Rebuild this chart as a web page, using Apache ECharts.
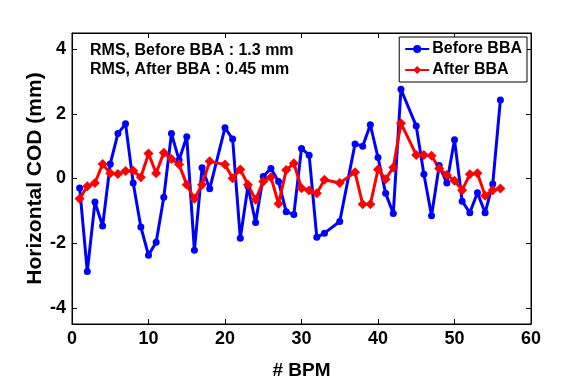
<!DOCTYPE html>
<html>
<head>
<meta charset="utf-8">
<script src="https://cdn.jsdelivr.net/npm/echarts@6/dist/echarts.min.js"></script>
<style>html,body{margin:0;padding:0;background:#fff}#c{width:566px;height:385px}</style>
</head>
<body>
<div id="c"></div>
<script>
var bpm = [1,2,3,4,5,6,7,8,9,10,11,12,13,14,15,16,17,18,
  20,21,22,23,24,25,26,27,28,29,30,31,32,33,
  35,
  37,38,39,40,41,42,43,
  45,46,47,48,49,50,51,52,53,54,55,56];
var beforeBBA = [-0.29,-2.88,-0.73,-1.47,0.45,1.39,1.69,-0.14,-1.50,-2.37,-1.97,-0.58,1.39,0.57,1.29,-2.22,0.33,-0.32,
  1.57,1.22,-1.85,-0.24,-1.36,0.06,0.31,-0.09,-1.03,-1.11,0.93,0.72,-1.82,-1.69,
  -1.33,
  1.07,1.00,1.66,0.65,-0.46,-1.08,2.76,
  1.62,0.13,-1.15,0.40,-0.14,1.20,-0.70,-1.06,-0.44,-1.06,-0.17,2.43];
var afterBBA = [-0.63,-0.24,-0.14,0.45,0.16,0.14,0.23,0.24,0.04,0.77,0.16,0.80,0.60,0.43,-0.19,-0.63,-0.19,0.53,
  0.43,0.01,0.28,-0.19,-0.66,-0.09,0.04,-0.78,0.26,0.47,-0.30,-0.37,-0.46,-0.04,
  -0.14,
  0.19,-0.80,-0.80,0.28,-0.02,0.34,1.71,
  0.73,0.73,0.70,0.31,0.11,-0.07,-0.36,0.13,0.16,-0.53,-0.36,-0.31];
var yTicks = [-4,-2,0,2,4];
var notes = ['RMS, Before BBA : 1.3 mm', 'RMS, After BBA : 0.45 mm'];

function pairs(xs, ys){ return xs.map(function(x,i){ return [x, ys[i]]; }); }

var FONT = 'Liberation Sans, Arial, sans-serif';
var chart = echarts.init(document.getElementById('c'), null, {renderer:'canvas'});
chart.setOption({
  animation: false,
  backgroundColor: '#fff',
  grid: {left: 72, right: 35, top: 33, bottom: 47, show: true, borderColor: '#000', borderWidth: 1, backgroundColor: 'transparent'},
  xAxis: [{
    type: 'value', min: 0, max: 60, interval: 10,
    name: '# BPM', nameLocation: 'middle', nameGap: 37,
    nameTextStyle: {fontFamily: FONT, fontWeight: 'bold', fontSize: 19, color: '#000'},
    axisLine: {show: true, onZero: false, lineStyle: {color: '#000', width: 1}},
    axisTick: {show: true, inside: true, length: 5, lineStyle: {color: '#000'}},
    axisLabel: {fontFamily: FONT, fontWeight: 'bold', fontSize: 18, color: '#000', margin: 6},
    splitLine: {show: false}
  },{
    type: 'value', position: 'top', min: 0, max: 60, interval: 10,
    axisLine: {show: true, onZero: false, lineStyle: {color: '#000', width: 1}},
    axisTick: {show: true, inside: true, length: 5, lineStyle: {color: '#000'}},
    axisLabel: {show: false}, splitLine: {show: false}
  }],
  yAxis: [{
    type: 'value', min: -4.5, max: 4.5,
    name: 'Horizontal COD (mm)', nameLocation: 'middle', nameGap: 26, nameMoveOverlap: false,
    nameTextStyle: {fontFamily: FONT, fontWeight: 'bold', fontSize: 21, color: '#000'},
    axisLine: {show: true, onZero: false, lineStyle: {color: '#000', width: 1}},
    axisTick: {show: true, inside: true, length: 5, customValues: yTicks, lineStyle: {color: '#000'}},
    axisLabel: {fontFamily: FONT, fontWeight: 'bold', fontSize: 18, color: '#000', margin: 6, customValues: yTicks},
    splitLine: {show: false}
  },{
    type: 'value', position: 'right', min: -4.5, max: 4.5,
    axisLine: {show: true, onZero: false, lineStyle: {color: '#000', width: 1}},
    axisTick: {show: true, inside: true, length: 5, customValues: yTicks, lineStyle: {color: '#000'}},
    axisLabel: {show: false}, splitLine: {show: false}
  }],
  legend: {
    orient: 'vertical', right: 39, top: 37,
    backgroundColor: '#fff', borderColor: '#000', borderWidth: 1,
    padding: [4, 5, 4, 5], itemGap: 5, itemWidth: 24, itemHeight: 10,
    textStyle: {fontFamily: FONT, fontWeight: 'bold', fontSize: 16, color: '#000', padding: [0,0,0,-2]},
    data: ['Before BBA', 'After BBA']
  },
  graphic: notes.map(function(t, i){
    return {type: 'text', left: 90, top: 43 + i*19, z: 10,
      style: {text: t, font: 'bold 16px ' + FONT, fill: '#000'}};
  }),
  series: [{
    name: 'Before BBA', type: 'line', data: pairs(bpm, beforeBBA),
    symbol: 'circle', symbolSize: 7,
    lineStyle: {color: '#0000ff', width: 3}, itemStyle: {color: '#0000ff'}
  },{
    name: 'After BBA', type: 'line', data: pairs(bpm, afterBBA),
    symbol: 'diamond', symbolSize: 10,
    lineStyle: {color: '#ff0000', width: 3}, itemStyle: {color: '#ff0000'}
  }]
});
</script>
</body>
</html>
